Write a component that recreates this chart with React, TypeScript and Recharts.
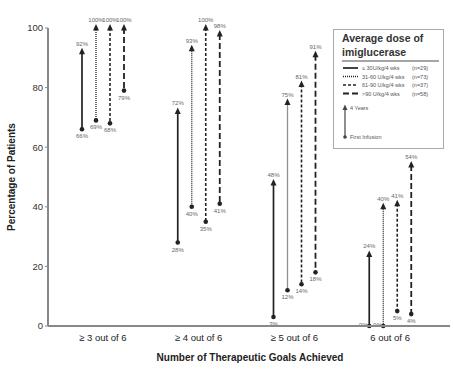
import { BarChart, Bar, XAxis, YAxis } from "recharts";

const goals = ["≥ 3 out of 6", "≥ 4 out of 6", "≥ 5 out of 6", "6 out of 6"];
const doseLabels = ["≤ 30U/kg/4 wks", "31-60 U/kg/4 wks", "61-90 U/kg/4 wks", ">90 U/kg/4 wks"];
const doseN = ["(n=29)", "(n=73)", "(n=37)", "(n=58)"];

// first infusion -> 4 years, per dose group, across the 4 goal categories
const firstLe30 = [66, 28, 3, 0];
const yearsLe30 = [92, 72, 48, 24];
const first31to60 = [69, 40, 12, 0];
const years31to60 = [100, 93, 75, 40];
const first61to90 = [68, 35, 14, 5];
const years61to90 = [100, 100, 81, 41];
const firstGt90 = [79, 41, 18, 4];
const yearsGt90 = [100, 98, 91, 54];

const yTicks = [0, 20, 40, 60, 80, 100];

const firsts = [firstLe30, first31to60, first61to90, firstGt90];
const years = [yearsLe30, years31to60, years61to90, yearsGt90];

const data = goals.map((goal, i) => ({
  goal,
  s0: [firsts[0][i], years[0][i]],
  s1: [firsts[1][i], years[1][i]],
  s2: [firsts[2][i], years[2][i]],
  s3: [firsts[3][i], years[3][i]],
}));

const ink = "#222";
const labelColor = "#666";
const font = "'Liberation Sans', Arial, sans-serif";

const lineStyles = [
  { dash: undefined, width: 1.7 },
  { dash: "1 1", width: 1.3 },
  { dash: "3 2", width: 1.6 },
  { dash: "6 3", width: 1.8 },
];

function makeShape(s: number) {
  return (props: any) => {
    const { x, y, width, height, index } = props;
    const cx = x + width / 2;
    const top = Math.min(y, y + height);
    const bottom = Math.max(y, y + height);
    const low = firsts[s][index];
    const high = years[s][index];
    const st = lineStyles[s];
    return (
      <g>
        <line
          x1={cx}
          x2={cx}
          y1={top}
          y2={bottom}
          stroke={ink}
          strokeWidth={st.width}
          strokeDasharray={st.dash}
        />
        <path d={`M${cx},${top - 4} L${cx - 3},${top + 2.5} L${cx + 3},${top + 2.5} Z`} fill={ink} />
        <circle cx={cx} cy={bottom} r={2.3} fill={ink} />
        <text x={cx} y={top - 6} textAnchor="middle" fontSize={6} fill={labelColor} fontFamily={font}>
          {high}%
        </text>
        {low === 0 ? (
          <text x={cx - 1.5} y={bottom + 1} textAnchor="end" fontSize={6} fill={labelColor} fontFamily={font}>
            {low}%
          </text>
        ) : (
          <text x={cx} y={bottom + 9} textAnchor="middle" fontSize={6} fill={labelColor} fontFamily={font}>
            {low}%
          </text>
        )}
      </g>
    );
  };
}

function LegendBox() {
  const rows = [68, 76.5, 85, 93.5];
  return (
    <svg
      width={453}
      height={370}
      style={{ position: "absolute", left: 0, top: 0, pointerEvents: "none" }}
    >
      <rect x={333.5} y={29.5} width={110} height={119} fill="#fff" stroke="#aaa" strokeWidth={1} />
      <text x={342} y={42} fontSize={10.5} fontWeight="bold" fill="#333" fontFamily={font}>
        Average dose of
      </text>
      <text x={342} y={56} fontSize={10.5} fontWeight="bold" fill="#333" fontFamily={font}>
        imiglucerase
      </text>
      <line x1={342} x2={439} y1={61} y2={61} stroke="#888" strokeWidth={1.5} />
      {rows.map((ry, i) => (
        <g key={i}>
          <line
            x1={343}
            x2={358}
            y1={ry}
            y2={ry}
            stroke={ink}
            strokeWidth={lineStyles[i].width}
            strokeDasharray={lineStyles[i].dash}
          />
          <text x={362} y={ry + 2} fontSize={5.5} fill="#555" fontFamily={font}>
            {doseLabels[i]}
          </text>
          <text x={412} y={ry + 2} fontSize={5.5} fill="#555" fontFamily={font}>
            {doseN[i]}
          </text>
        </g>
      ))}
      <line x1={345} x2={345} y1={108} y2={136} stroke="#444" strokeWidth={1.2} />
      <path d="M345,104.5 L342.5,110 L347.5,110 Z" fill="#444" />
      <circle cx={345} cy={137} r={1.8} fill="#444" />
      <text x={350} y={110} fontSize={5.5} fill="#555" fontFamily={font}>
        4 Years
      </text>
      <text x={350} y={139} fontSize={5.5} fill="#555" fontFamily={font}>
        First Infusion
      </text>
    </svg>
  );
}

export default function App() {
  return (
    <div style={{ position: "absolute", left: 0, top: 0, width: 453, height: 370, background: "#fff" }}>
      <BarChart
        width={453}
        height={370}
        data={data}
        margin={{ top: 28, right: 3, left: 0, bottom: 0 }}
        barSize={14}
        barGap={0}
      >
        <XAxis
          dataKey="goal"
          height={44}
          padding={{ left: 7, right: 12 }}
          tickLine={false}
          axisLine={{ stroke: "#888", strokeWidth: 2 }}
          tick={{ fontSize: 9.5, fill: "#222", fontFamily: font }}
          label={{
            content: () => (
              <text x={250} y={361} textAnchor="middle" fontSize={10} fontWeight="bold" fill="#222" fontFamily={font}>
                Number of Therapeutic Goals Achieved
              </text>
            ),
          }}
        />
        <YAxis
          width={48}
          domain={[0, 100]}
          ticks={yTicks}
          tickSize={3}
          tickMargin={2}
          axisLine={{ stroke: "#888", strokeWidth: 2 }}
          tickLine={{ stroke: "#888" }}
          tick={{ fontSize: 9.5, fill: "#333", fontFamily: font }}
          label={{
            content: () => (
              <text
                x={15}
                y={177}
                transform="rotate(-90, 15, 177)"
                textAnchor="middle"
                fontSize={10}
                fontWeight="bold"
                fill="#222"
                fontFamily={font}
              >
                Percentage of Patients
              </text>
            ),
          }}
        />
        {[0, 1, 2, 3].map((s) => (
          <Bar key={s} dataKey={`s${s}`} isAnimationActive={false} shape={makeShape(s)} />
        ))}
      </BarChart>
      <LegendBox />
    </div>
  );
}
